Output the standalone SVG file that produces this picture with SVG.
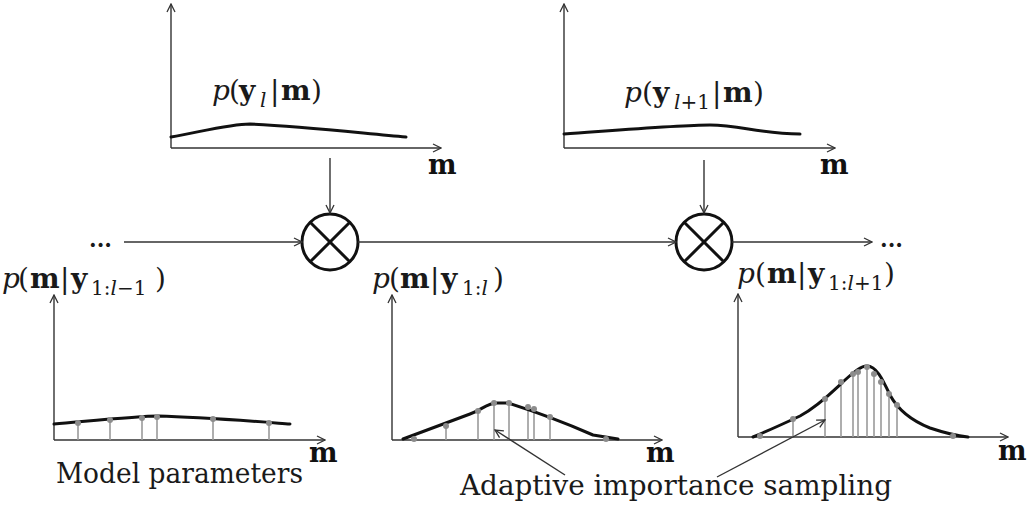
<svg xmlns="http://www.w3.org/2000/svg" width="1028" height="508" viewBox="0 0 1028 508">
<style>
.ax{stroke:#333;stroke-width:1.4;fill:none}
.cv{stroke:#111;stroke-width:3;fill:none;stroke-linejoin:round;stroke-linecap:round}
.sm{stroke:#9a9a9a;stroke-width:1.6}
.dt{fill:#8c8c8c}
.cn{stroke:#333;stroke-width:1.4;fill:none}
.mul{stroke:#111;stroke-width:3;fill:#fff}
.t{font-family:"DejaVu Serif","Liberation Serif",serif;fill:#1a1a1a}
.m{font-family:"DejaVu Serif","Liberation Serif",serif;font-weight:bold;font-size:27px;fill:#111}
.lab{font-size:28px}
.it{font-style:italic}
.b{font-weight:bold}
.sub{font-size:20px}
</style>
<defs>
<marker id="ah" viewBox="0 0 10 10" refX="9" refY="5" markerWidth="10" markerHeight="10" markerUnits="userSpaceOnUse" orient="auto">
<path d="M1,1 L9,5 L1,9" fill="none" stroke="#333" stroke-width="1.3"/>
</marker>
</defs>

<g id="plot-likelihood-l">
<line class="ax" x1="171" y1="148" x2="171" y2="4" marker-end="url(#ah)"/>
<line class="ax" x1="171" y1="148" x2="441" y2="148" marker-end="url(#ah)"/>
<path class="cv" d="M171,137 C200,132 230,124 250,124 C300,126 360,133 406,137"/>
<text class="t lab" y="100"><tspan class="it" x="212">p</tspan><tspan x="229">(</tspan><tspan class="b" x="239">y</tspan><tspan class="it sub" x="260" y="107">l</tspan><tspan x="270" y="100">|</tspan><tspan class="b" x="281">m</tspan><tspan x="311">)</tspan></text>
<text class="m" x="428" y="174">m</text>
</g>

<g id="plot-likelihood-l1">
<line class="ax" x1="564" y1="148" x2="564" y2="4" marker-end="url(#ah)"/>
<line class="ax" x1="564" y1="148" x2="835" y2="148" marker-end="url(#ah)"/>
<path class="cv" d="M564,134 C620,130 680,125 710,125 C740,125 760,134 800,134"/>
<text class="t lab" y="102"><tspan class="it" x="624">p</tspan><tspan x="642">(</tspan><tspan class="b" x="653">y</tspan><tspan class="sub" x="674" y="109"><tspan class="it">l</tspan>+1</tspan><tspan x="712" y="102">|</tspan><tspan class="b" x="723">m</tspan><tspan x="753">)</tspan></text>
<text class="m" x="820" y="174">m</text>
</g>

<g id="mult-1">
<circle class="mul" cx="330" cy="242" r="28"/>
<line class="mul" x1="310.2" y1="222.2" x2="349.8" y2="261.8"/>
<line class="mul" x1="349.8" y1="222.2" x2="310.2" y2="261.8"/>
</g>

<g id="mult-2">
<circle class="mul" cx="704" cy="242" r="28"/>
<line class="mul" x1="684.2" y1="222.2" x2="723.8" y2="261.8"/>
<line class="mul" x1="723.8" y1="222.2" x2="684.2" y2="261.8"/>
</g>

<g id="posterior-prev-label">
<text class="t b" x="89" y="247" style="font-size:22px">...</text>
<text class="t lab" y="288"><tspan class="it" x="2">p</tspan><tspan x="18">(</tspan><tspan class="b" x="30">m</tspan><tspan x="60">|</tspan><tspan class="b" x="71">y</tspan><tspan class="sub" x="91" y="295">1:<tspan class="it">l</tspan>−1</tspan><tspan x="155" y="288">)</tspan></text>
</g>

<g id="posterior-cur-label">
<text class="t lab" y="288"><tspan class="it" x="372">p</tspan><tspan x="389">(</tspan><tspan class="b" x="400">m</tspan><tspan x="430">|</tspan><tspan class="b" x="441">y</tspan><tspan class="sub" x="462" y="295">1:<tspan class="it">l</tspan></tspan><tspan x="493" y="288">)</tspan></text>
</g>

<g id="posterior-next-label">
<text class="t b" x="880" y="247" style="font-size:22px">...</text>
<text class="t lab" y="283"><tspan class="it" x="737">p</tspan><tspan x="755">(</tspan><tspan class="b" x="767">m</tspan><tspan x="797">|</tspan><tspan class="b" x="808">y</tspan><tspan class="sub" x="828" y="290">1:<tspan class="it">l</tspan>+1</tspan><tspan x="884" y="283">)</tspan></text>
</g>

<g id="plot-prior">
<line class="ax" x1="54" y1="440" x2="54" y2="295" marker-end="url(#ah)"/>
<line class="ax" x1="54" y1="440" x2="325" y2="440" marker-end="url(#ah)"/>
<g class="sm">
<line x1="78" y1="424" x2="78" y2="440"/><line x1="110" y1="420" x2="110" y2="440"/>
<line x1="142" y1="418" x2="142" y2="440"/><line x1="157" y1="417" x2="157" y2="440"/>
<line x1="213" y1="420" x2="213" y2="440"/><line x1="269" y1="424" x2="269" y2="440"/>
</g>
<path class="cv" d="M54,424 C100,420 140,416 158,416 C200,417 250,421 290,424"/>
<g class="dt">
<circle cx="78" cy="423" r="3"/><circle cx="110" cy="420" r="3"/><circle cx="142" cy="418" r="3"/>
<circle cx="157" cy="417" r="3"/><circle cx="213" cy="419" r="3"/><circle cx="269" cy="423" r="3"/>
</g>
<text class="m" x="309" y="462">m</text>
<text class="t" x="56" y="483" style="font-size:27px" textLength="247" lengthAdjust="spacingAndGlyphs">Model parameters</text>
</g>

<g id="plot-posterior-l">
<line class="ax" x1="392" y1="440" x2="392" y2="295" marker-end="url(#ah)"/>
<line class="ax" x1="392" y1="440" x2="662" y2="440" marker-end="url(#ah)"/>
<g class="sm">
<line x1="446" y1="426" x2="446" y2="440"/>
<line x1="478" y1="411" x2="478" y2="440"/><line x1="494" y1="403" x2="494" y2="440"/>
<line x1="509" y1="403" x2="509" y2="440"/><line x1="528" y1="407" x2="528" y2="440"/>
<line x1="534" y1="409" x2="534" y2="440"/><line x1="550" y1="417" x2="550" y2="440"/>
</g>
<path class="cv" d="M403,439 L470,414 C482,410 487,403 497,403 L508,403 C530,410 570,425 593,435 L618,439"/>
<g class="dt">
<circle cx="414" cy="439" r="3"/><circle cx="446" cy="426" r="3"/><circle cx="478" cy="411" r="3"/>
<circle cx="494" cy="403" r="3"/><circle cx="509" cy="403" r="3"/><circle cx="528" cy="407" r="3"/>
<circle cx="534" cy="409" r="3"/><circle cx="550" cy="417" r="3"/><circle cx="606" cy="439" r="3"/>
</g>
<text class="m" x="646" y="462">m</text>
</g>

<g id="plot-posterior-l1">
<line class="ax" x1="738" y1="437" x2="738" y2="294" marker-end="url(#ah)"/>
<line class="ax" x1="738" y1="437" x2="1008" y2="437" marker-end="url(#ah)"/>
<g class="sm">
<line x1="793" y1="419" x2="793" y2="437"/>
<line x1="825" y1="399" x2="825" y2="437"/><line x1="841" y1="382" x2="841" y2="437"/>
<line x1="853" y1="374" x2="853" y2="437"/><line x1="858" y1="372" x2="858" y2="437"/>
<line x1="867" y1="367" x2="867" y2="437"/><line x1="874" y1="374" x2="874" y2="437"/>
<line x1="881" y1="382" x2="881" y2="437"/><line x1="889" y1="394" x2="889" y2="437"/>
<line x1="897" y1="405" x2="897" y2="437"/>
</g>
<path class="cv" d="M753,437 C770,430 785,423 800,416 C820,405 833,391 845,380 C855,371 861,366 867,366 C876,366 882,378 890,395 C898,410 910,420 930,428 C945,433 958,436 968,437"/>
<g class="dt">
<circle cx="760" cy="436" r="3"/><circle cx="793" cy="419" r="3"/><circle cx="825" cy="399" r="3"/>
<circle cx="841" cy="382" r="3"/><circle cx="853" cy="374" r="3"/><circle cx="858" cy="372" r="3"/>
<circle cx="867" cy="367" r="3"/><circle cx="874" cy="374" r="3"/><circle cx="881" cy="382" r="3"/>
<circle cx="889" cy="394" r="3"/><circle cx="897" cy="405" r="3"/><circle cx="953" cy="436" r="3"/>
</g>
<text class="m" x="998" y="460">m</text>
</g>

<g id="annotation-sampling">
<text class="t" x="460" y="495" style="font-size:27px" textLength="432" lengthAdjust="spacingAndGlyphs">Adaptive importance sampling</text>
</g>

<g id="connectors">
<line class="cn" x1="330" y1="158" x2="330" y2="213" marker-end="url(#ah)"/>
<line class="cn" x1="704" y1="160" x2="704" y2="213" marker-end="url(#ah)"/>
<line class="cn" x1="124" y1="242" x2="302" y2="242" marker-end="url(#ah)"/>
<line class="cn" x1="358" y1="242" x2="676" y2="242" marker-end="url(#ah)"/>
<line class="cn" x1="732" y1="242" x2="872" y2="242" marker-end="url(#ah)"/>
<line class="cn" x1="565" y1="475" x2="495" y2="430" marker-end="url(#ah)"/>
<line class="cn" x1="717" y1="477" x2="825" y2="420" marker-end="url(#ah)"/>
</g>
</svg>
